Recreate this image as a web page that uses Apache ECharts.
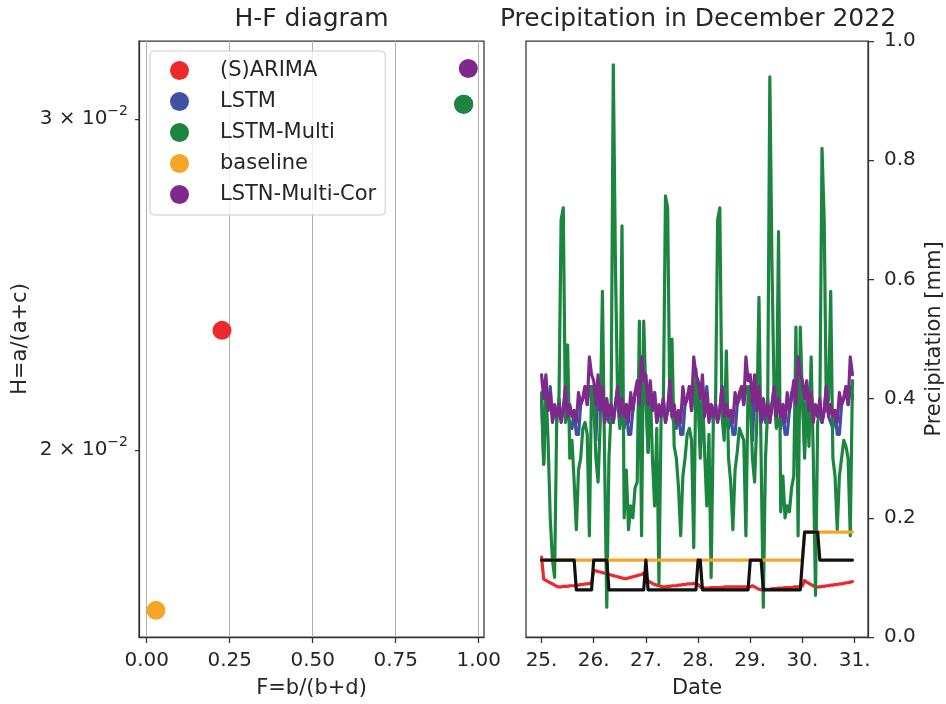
<!DOCTYPE html>
<html><head><meta charset="utf-8">
<script src="https://cdn.jsdelivr.net/npm/echarts@6/dist/echarts.min.js"></script>
<style>html,body{margin:0;padding:0;background:#fff}#c{width:946px;height:704px}</style>
</head><body><div id="c"></div>
<script>
// ---------- H-F diagram data ----------
const hfNames = ['(S)ARIMA', 'LSTM', 'LSTM-Multi', 'baseline', 'LSTN-Multi-Cor'];
const hfF = [0.2268, 0.9548, 0.9548, 0.0280, 0.9687];
const hfH = [0.02316, 0.03056, 0.03056, 0.01643, 0.03193];
const hfXTicks = [0, 0.25, 0.5, 0.75, 1.0];
const hfYTicks = [0.02, 0.03];
const hfYLabels = ['2 × 10', '3 × 10'];

// ---------- Precipitation data (hourly, 25 Dec 00:00 .. 30 Dec 23:00) ----------
const startDay = 25;
const dayTicks = [25, 26, 27, 28, 29, 30, 31];
const arimaPrecip = [
  0.134,0.097,0.095,0.093,0.091,0.089,0.087,0.085,0.084,0.084,0.085,0.085,0.085,0.086,0.086,0.086,0.087,0.087,0.088,0.088,0.089,0.089,0.090,0.090,
  0.112,0.111,0.110,0.109,0.108,0.107,0.106,0.105,0.104,0.103,0.102,0.101,0.100,0.099,0.098,0.098,0.099,0.100,0.101,0.102,0.103,0.104,0.105,0.107,
  0.100,0.094,0.092,0.090,0.088,0.087,0.086,0.085,0.084,0.084,0.085,0.085,0.086,0.086,0.086,0.087,0.087,0.088,0.088,0.089,0.089,0.089,0.090,0.090,
  0.088,0.084,0.082,0.082,0.082,0.082,0.083,0.083,0.083,0.083,0.083,0.083,0.084,0.084,0.084,0.084,0.084,0.084,0.084,0.084,0.084,0.084,0.084,0.084,
  0.084,0.086,0.084,0.082,0.080,0.079,0.079,0.080,0.080,0.080,0.081,0.081,0.081,0.082,0.082,0.082,0.083,0.083,0.083,0.083,0.084,0.084,0.084,0.084,
  0.086,0.095,0.092,0.090,0.088,0.086,0.084,0.084,0.084,0.085,0.085,0.086,0.086,0.087,0.087,0.088,0.088,0.089,0.089,0.090,0.091,0.091,0.092,0.093
];
const lstmPrecip = [
  0.40,0.29,0.41,0.38,0.42,0.37,0.38,0.36,0.40,0.37,0.38,0.42,0.37,0.36,0.35,0.38,0.34,0.34,0.39,0.40,0.42,0.39,0.42,0.42,
  0.41,0.33,0.42,0.38,0.42,0.36,0.38,0.36,0.39,0.36,0.39,0.42,0.37,0.36,0.35,0.39,0.34,0.34,0.38,0.41,0.42,0.39,0.42,0.41,
  0.42,0.31,0.42,0.38,0.41,0.36,0.38,0.37,0.40,0.36,0.38,0.42,0.37,0.36,0.35,0.38,0.34,0.34,0.39,0.40,0.42,0.38,0.42,0.42,
  0.41,0.32,0.42,0.38,0.42,0.37,0.39,0.36,0.39,0.37,0.38,0.42,0.36,0.36,0.35,0.38,0.34,0.34,0.39,0.40,0.42,0.39,0.42,0.41,
  0.42,0.33,0.41,0.38,0.42,0.36,0.38,0.36,0.40,0.36,0.39,0.42,0.37,0.36,0.35,0.39,0.34,0.34,0.38,0.41,0.42,0.38,0.42,0.42,
  0.41,0.32,0.42,0.38,0.41,0.37,0.38,0.37,0.39,0.36,0.38,0.42,0.37,0.36,0.35,0.38,0.34,0.34,0.39,0.40,0.42,0.39,0.42,0.40
];
const lstmMultiPrecip = [
  0.41,0.29,0.42,0.33,0.20,0.13,0.10,0.37,0.39,0.70,0.72,0.36,0.49,0.30,0.33,0.26,0.18,0.28,0.30,0.35,0.36,0.34,0.17,0.42,
  0.40,0.30,0.26,0.36,0.58,0.30,0.05,0.30,0.38,0.96,0.62,0.40,0.35,0.69,0.20,0.28,0.18,0.22,0.20,0.25,0.26,0.53,0.17,0.53,
  0.40,0.31,0.42,0.30,0.22,0.35,0.09,0.37,0.38,0.74,0.72,0.38,0.50,0.32,0.30,0.25,0.17,0.27,0.30,0.34,0.35,0.33,0.15,0.45,
  0.40,0.30,0.41,0.31,0.22,0.34,0.10,0.36,0.38,0.70,0.72,0.37,0.33,0.48,0.30,0.26,0.18,0.28,0.31,0.35,0.34,0.33,0.17,0.42,
  0.40,0.30,0.26,0.36,0.57,0.30,0.05,0.30,0.38,0.94,0.62,0.40,0.35,0.68,0.21,0.27,0.20,0.22,0.21,0.25,0.27,0.52,0.17,0.52,
  0.40,0.30,0.42,0.32,0.47,0.30,0.07,0.36,0.38,0.82,0.70,0.38,0.40,0.58,0.30,0.27,0.18,0.27,0.30,0.33,0.32,0.30,0.17,0.43
];
const baselinePrecip = [
  0.129,0.129,0.129,0.129,0.129,0.129,0.129,0.129,0.129,0.129,0.129,0.129,0.129,0.129,0.129,0.129,0.129,0.129,0.129,0.129,0.129,0.129,0.129,0.129,
  0.129,0.129,0.129,0.129,0.129,0.129,0.129,0.129,0.129,0.129,0.129,0.129,0.129,0.129,0.129,0.129,0.129,0.129,0.129,0.129,0.129,0.129,0.129,0.129,
  0.129,0.129,0.129,0.129,0.129,0.129,0.129,0.129,0.129,0.129,0.129,0.129,0.129,0.129,0.129,0.129,0.129,0.129,0.129,0.129,0.129,0.129,0.129,0.129,
  0.129,0.129,0.129,0.129,0.129,0.129,0.129,0.129,0.129,0.129,0.129,0.129,0.129,0.129,0.129,0.129,0.129,0.129,0.129,0.129,0.129,0.129,0.129,0.129,
  0.129,0.129,0.129,0.129,0.129,0.129,0.129,0.129,0.129,0.129,0.129,0.129,0.129,0.129,0.129,0.129,0.129,0.129,0.129,0.129,0.129,0.129,0.129,0.129,
  0.129,0.176,0.176,0.176,0.176,0.176,0.176,0.176,0.176,0.176,0.176,0.176,0.176,0.176,0.176,0.176,0.176,0.176,0.176,0.176,0.176,0.176,0.176,0.176
];
const corPrecip = [
  0.44,0.40,0.44,0.38,0.41,0.36,0.39,0.37,0.39,0.36,0.38,0.42,0.37,0.39,0.37,0.38,0.36,0.41,0.39,0.40,0.42,0.39,0.47,0.44,
  0.43,0.39,0.44,0.38,0.42,0.36,0.40,0.37,0.39,0.36,0.39,0.42,0.37,0.40,0.37,0.39,0.36,0.41,0.38,0.41,0.43,0.39,0.47,0.43,
  0.44,0.39,0.43,0.38,0.41,0.36,0.39,0.37,0.40,0.36,0.38,0.43,0.37,0.39,0.36,0.38,0.36,0.42,0.39,0.40,0.42,0.38,0.47,0.44,
  0.43,0.40,0.44,0.37,0.41,0.36,0.39,0.37,0.39,0.36,0.38,0.42,0.37,0.39,0.37,0.38,0.36,0.41,0.39,0.41,0.42,0.39,0.47,0.43,
  0.44,0.39,0.44,0.38,0.42,0.36,0.40,0.37,0.39,0.36,0.39,0.42,0.37,0.40,0.37,0.39,0.36,0.41,0.38,0.40,0.43,0.39,0.47,0.44,
  0.43,0.40,0.43,0.38,0.41,0.36,0.39,0.37,0.40,0.36,0.38,0.42,0.37,0.39,0.37,0.38,0.36,0.41,0.39,0.40,0.42,0.39,0.47,0.44
];
const observedPrecip = [
  0.129,0.129,0.129,0.129,0.129,0.129,0.129,0.129,0.129,0.129,0.129,0.129,0.129,0.129,0.129,0.129,0.079,0.079,0.079,0.079,0.079,0.079,0.079,0.079,
  0.129,0.129,0.129,0.129,0.129,0.129,0.129,0.079,0.079,0.079,0.079,0.079,0.079,0.079,0.079,0.079,0.079,0.079,0.079,0.079,0.079,0.079,0.079,0.079,
  0.129,0.079,0.079,0.079,0.079,0.079,0.079,0.079,0.079,0.079,0.079,0.079,0.079,0.079,0.079,0.079,0.079,0.079,0.079,0.079,0.079,0.079,0.079,0.079,
  0.129,0.129,0.079,0.079,0.079,0.079,0.079,0.079,0.079,0.079,0.079,0.079,0.079,0.079,0.079,0.079,0.079,0.079,0.079,0.079,0.079,0.079,0.079,0.079,
  0.129,0.129,0.129,0.129,0.129,0.129,0.079,0.079,0.079,0.079,0.079,0.079,0.079,0.079,0.079,0.079,0.079,0.079,0.079,0.079,0.079,0.079,0.079,0.079,
  0.129,0.176,0.176,0.176,0.176,0.176,0.176,0.176,0.129,0.129,0.129,0.129,0.129,0.129,0.129,0.129,0.129,0.129,0.129,0.129,0.129,0.129,0.129,0.129
];

const colors = ['#EC2A2B', '#3E52A2', '#1C8640', '#F7A526', '#7F2A8B'];
const obsColor = '#111111';
const txt = '#262626';
const FONT = 'DejaVu Sans';

const times = arimaPrecip.map((_, i) => startDay + i / 24);
const pairs = arr => arr.map((v, i) => [times[i], v]);

const chart = echarts.init(document.getElementById('c'), null, {renderer: 'canvas'});

const scatterSeries = hfNames.map((n, i) => ({
  name: n, type: 'scatter', xAxisIndex: 0, yAxisIndex: 0,
  symbol: 'circle', symbolSize: 19,
  itemStyle: {color: colors[i], opacity: 1},
  data: [[hfF[i], Math.log10(hfH[i])]],
  z: 3
}));

const lineDefs = [
  ['(S)ARIMA', arimaPrecip, colors[0]],
  ['LSTM', lstmPrecip, colors[1]],
  ['LSTM-Multi', lstmMultiPrecip, colors[2]],
  ['baseline', baselinePrecip, colors[3]],
  ['LSTN-Multi-Cor', corPrecip, colors[4]],
  ['observed', observedPrecip, obsColor]
];
const lineSeries = lineDefs.map(([n, arr, c]) => ({
  name: n, type: 'line', xAxisIndex: 1, yAxisIndex: 1,
  showSymbol: false, symbol: 'none', animation: false,
  lineStyle: {color: c, width: 3.2, join: 'round', cap: 'round'},
  itemStyle: {color: c},
  data: pairs(arr)
}));

const axisLineStyle = {color: '#333333', width: 1.25};

chart.setOption({
  animation: false,
  textStyle: {fontFamily: FONT, color: txt},
  title: [
    {text: 'H-F diagram', left: 311.5, top: 7, textAlign: 'center', padding: 0,
     textStyle: {fontFamily: FONT, fontSize: 25, fontWeight: 'normal', color: txt, lineHeight: 25}},
    {text: 'Precipitation in December 2022', left: 698, top: 7, textAlign: 'center', padding: 0,
     textStyle: {fontFamily: FONT, fontSize: 25, fontWeight: 'normal', color: txt, lineHeight: 25}}
  ],
  legend: {
    data: hfNames, orient: 'vertical', left: 150, top: 51,
    padding: [9, 9, 10, 20], itemGap: 10, itemWidth: 19, itemHeight: 19,
    icon: 'circle', selectedMode: false,
    backgroundColor: 'rgba(255,255,255,0.8)', borderColor: '#cccccc', borderWidth: 1, borderRadius: 4,
    textStyle: {fontFamily: FONT, fontSize: 21, color: txt, lineHeight: 21, padding: [0, 0, 0, 26]}
  },
  grid: [
    {left: 139, top: 41, width: 345, height: 596, show: true, borderColor: '#333333', borderWidth: 1.25, backgroundColor: '#fff', containLabel: false},
    {left: 526, top: 41, width: 344, height: 596, show: true, borderColor: '#333333', borderWidth: 1.25, backgroundColor: '#fff', containLabel: false}
  ],
  xAxis: [
    {type: 'value', gridIndex: 0, min: -0.0232, max: 1.016,
     name: 'F=b/(b+d)', nameLocation: 'middle', nameGap: 41,
     nameTextStyle: {fontFamily: FONT, fontSize: 21, color: txt},
     axisLine: {show: true, onZero: false, lineStyle: axisLineStyle},
     axisTick: {show: true, inside: false, length: 6, lineStyle: axisLineStyle, customValues: hfXTicks},
     axisLabel: {show: true, margin: 14, fontFamily: FONT, fontSize: 20, color: txt, customValues: hfXTicks,
                 formatter: v => v.toFixed(2)},
     splitLine: {show: true, lineStyle: {color: '#b0b0b0', width: 1}}
    },
    {type: 'value', gridIndex: 1, min: 24.7021, max: 31.2563,
     name: 'Date', nameLocation: 'middle', nameGap: 41,
     nameTextStyle: {fontFamily: FONT, fontSize: 21, color: txt},
     axisLine: {show: true, onZero: false, lineStyle: axisLineStyle},
     axisTick: {show: true, inside: false, length: 6, lineStyle: axisLineStyle, customValues: dayTicks},
     axisLabel: {show: true, margin: 14, fontFamily: FONT, fontSize: 20, color: txt, customValues: dayTicks,
                 formatter: v => Math.round(v) + '.'},
     splitLine: {show: false}
    }
  ],
  yAxis: [
    {type: 'value', gridIndex: 0, min: -1.79855, max: -1.48119,
     name: 'H=a/(a+c)', nameLocation: 'middle', nameGap: 108,
     nameTextStyle: {fontFamily: FONT, fontSize: 21, color: txt},
     axisLine: {show: true, onZero: false, lineStyle: axisLineStyle},
     axisTick: {show: true, inside: false, length: 4, lineStyle: axisLineStyle, customValues: hfYTicks.map(v => Math.log10(v))},
     axisLabel: {show: true, margin: 11, customValues: hfYTicks.map(v => Math.log10(v)),
       formatter: v => {
         const h = Math.pow(10, v);
         let k = 0, best = 1e9;
         hfYTicks.forEach((t, j) => { const d = Math.abs(t - h); if (d < best) { best = d; k = j; } });
         return '{a|' + hfYLabels[k] + '}{b|−2}';
       },
       rich: {
         a: {fontFamily: FONT, fontSize: 20, color: txt, lineHeight: 30},
         b: {fontFamily: FONT, fontSize: 14, color: txt, lineHeight: 14, verticalAlign: 'top'}
       }
     },
     splitLine: {show: false}
    },
    {type: 'value', gridIndex: 1, position: 'right', min: 0, max: 1, interval: 0.2,
     name: 'Precipitation [mm]', nameLocation: 'middle', nameGap: 56,
     nameTextStyle: {fontFamily: FONT, fontSize: 21, color: txt},
     axisLine: {show: true, onZero: false, lineStyle: axisLineStyle},
     axisTick: {show: true, inside: false, length: 6, lineStyle: axisLineStyle},
     axisLabel: {show: true, margin: 16, fontFamily: FONT, fontSize: 20, color: txt, formatter: v => v.toFixed(1)},
     splitLine: {show: false}
    }
  ],
  series: scatterSeries.concat(lineSeries)
});
</script>
</body></html>
